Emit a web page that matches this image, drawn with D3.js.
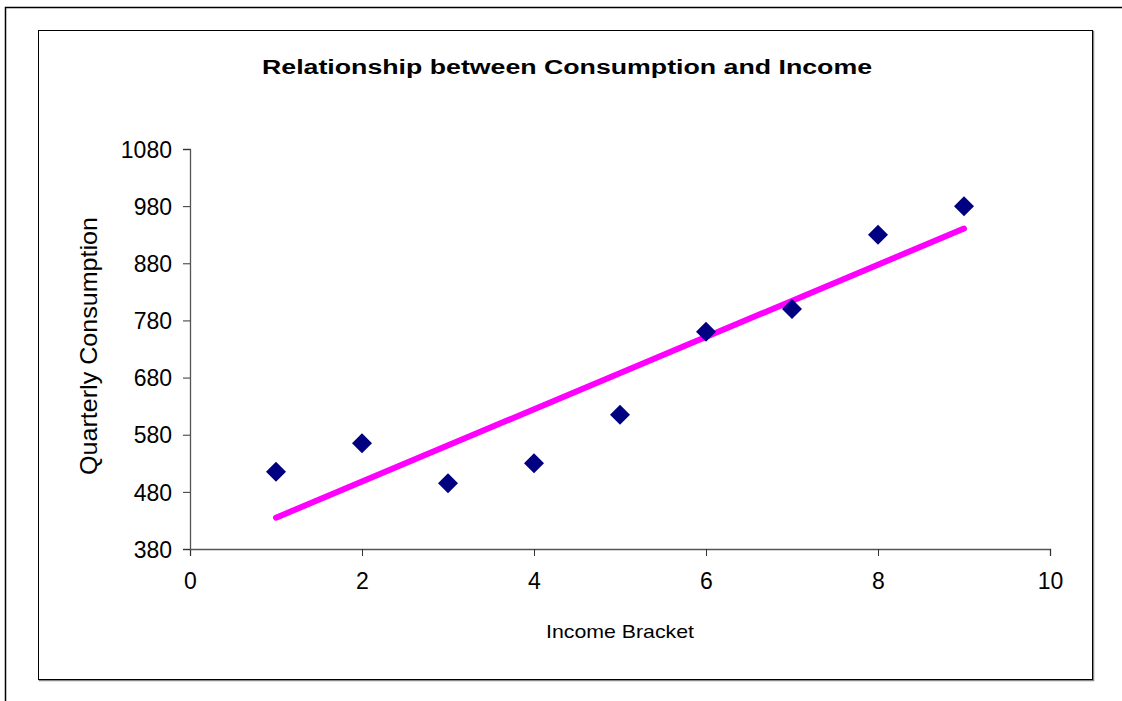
<!DOCTYPE html>
<html>
<head>
<meta charset="utf-8">
<script src="https://cdn.jsdelivr.net/npm/d3@7"></script>
<style>
  html, body { margin: 0; padding: 0; background: #fff; }
  svg { display: block; font-family: "Liberation Sans", Arial, sans-serif; }
</style>
</head>
<body>
<svg id="chart" width="1122" height="701"></svg>
<script>
// Income bracket vs. quarterly consumption
const incomeBracket = [1, 2, 3, 4, 5, 6, 7, 8, 9];
const consumption = [515, 565, 495, 530, 615, 760, 800, 930, 980];
const xTicks = [0, 2, 4, 6, 8, 10];
const yTicks = [380, 480, 580, 680, 780, 880, 980, 1080];

const titleText = "Relationship between Consumption and Income";
const xTitle = "Income Bracket";
const yTitle = "Quarterly Consumption";

const svg = d3.select("#chart");

// Outer frame (top and left edges visible)
svg.append("path")
  .attr("d", "M5.5,701 V7.5 H1122")
  .attr("fill", "none").attr("stroke", "#000").attr("stroke-width", 1.5);

// Chart area frame with a soft shadow on the right/bottom
svg.append("rect")
  .attr("x", 39.5).attr("y", 31.5).attr("width", 1054).attr("height", 649)
  .attr("fill", "none").attr("stroke", "#888").attr("stroke-width", 1.5);
svg.append("rect")
  .attr("x", 38.5).attr("y", 30.5).attr("width", 1054).attr("height", 649)
  .attr("fill", "#fff").attr("stroke", "#000").attr("stroke-width", 1);

const plot = { left: 190, right: 1050, top: 149, bottom: 549 };

const x = d3.scaleLinear().domain([0, 10]).range([plot.left, plot.right]);
const y = d3.scaleLinear().domain([380, 1080]).range([plot.bottom, plot.top]);

// Axes
const xAxis = svg.append("g")
  .attr("transform", `translate(0,${plot.bottom})`)
  .call(d3.axisBottom(x).tickValues(xTicks).tickSize(7).tickPadding(17).tickFormat(d3.format("d")));
const yAxis = svg.append("g")
  .attr("transform", `translate(${plot.left},0)`)
  .call(d3.axisLeft(y).tickValues(yTicks).tickSize(7).tickPadding(11).tickFormat(d3.format("d")));

[xAxis, yAxis].forEach(g => {
  g.select(".domain").attr("stroke", "#555").attr("stroke-width", 1.3);
  g.selectAll(".tick line").attr("stroke", "#333").attr("stroke-width", 1);
  g.selectAll(".tick text")
    .attr("fill", "#000")
    .style("font-family", '"Liberation Sans", Arial, sans-serif')
    .style("font-size", "23px");
});
yAxis.selectAll(".tick text").attr("dy", "0.36em");

// Least-squares trend line through the observations
const mx = d3.mean(incomeBracket), my = d3.mean(consumption);
const sxy = d3.sum(incomeBracket, (v, i) => (v - mx) * (consumption[i] - my));
const sxx = d3.sum(incomeBracket, v => (v - mx) * (v - mx));
const slope = sxy / sxx, intercept = my - slope * mx;
const xMin = d3.min(incomeBracket), xMax = d3.max(incomeBracket);

svg.append("line")
  .attr("x1", x(xMin)).attr("y1", y(intercept + slope * xMin))
  .attr("x2", x(xMax)).attr("y2", y(intercept + slope * xMax))
  .attr("stroke", "#ff00ff").attr("stroke-width", 6).attr("stroke-linecap", "round");

// Diamond markers
const diamond = d3.symbol().type(d3.symbolSquare).size(200);
svg.append("g").selectAll("path")
  .data(incomeBracket.map((v, i) => [v, consumption[i]]))
  .join("path")
  .attr("d", diamond)
  .attr("transform", d => `translate(${x(d[0])},${y(d[1])}) rotate(45)`)
  .attr("fill", "#000080");

// Titles
svg.append("text")
  .attr("x", 567).attr("y", 74)
  .attr("text-anchor", "middle")
  .style("font-size", "20px").style("font-weight", "bold")
  .attr("textLength", 610).attr("lengthAdjust", "spacingAndGlyphs")
  .text(titleText);

svg.append("text")
  .attr("x", 620).attr("y", 638)
  .attr("text-anchor", "middle")
  .style("font-size", "19px")
  .attr("textLength", 148).attr("lengthAdjust", "spacingAndGlyphs")
  .text(xTitle);

svg.append("text")
  .attr("transform", "translate(97,346) rotate(-90)")
  .attr("text-anchor", "middle")
  .style("font-size", "24px")
  .attr("textLength", 258).attr("lengthAdjust", "spacingAndGlyphs")
  .text(yTitle);
</script>
</body>
</html>
